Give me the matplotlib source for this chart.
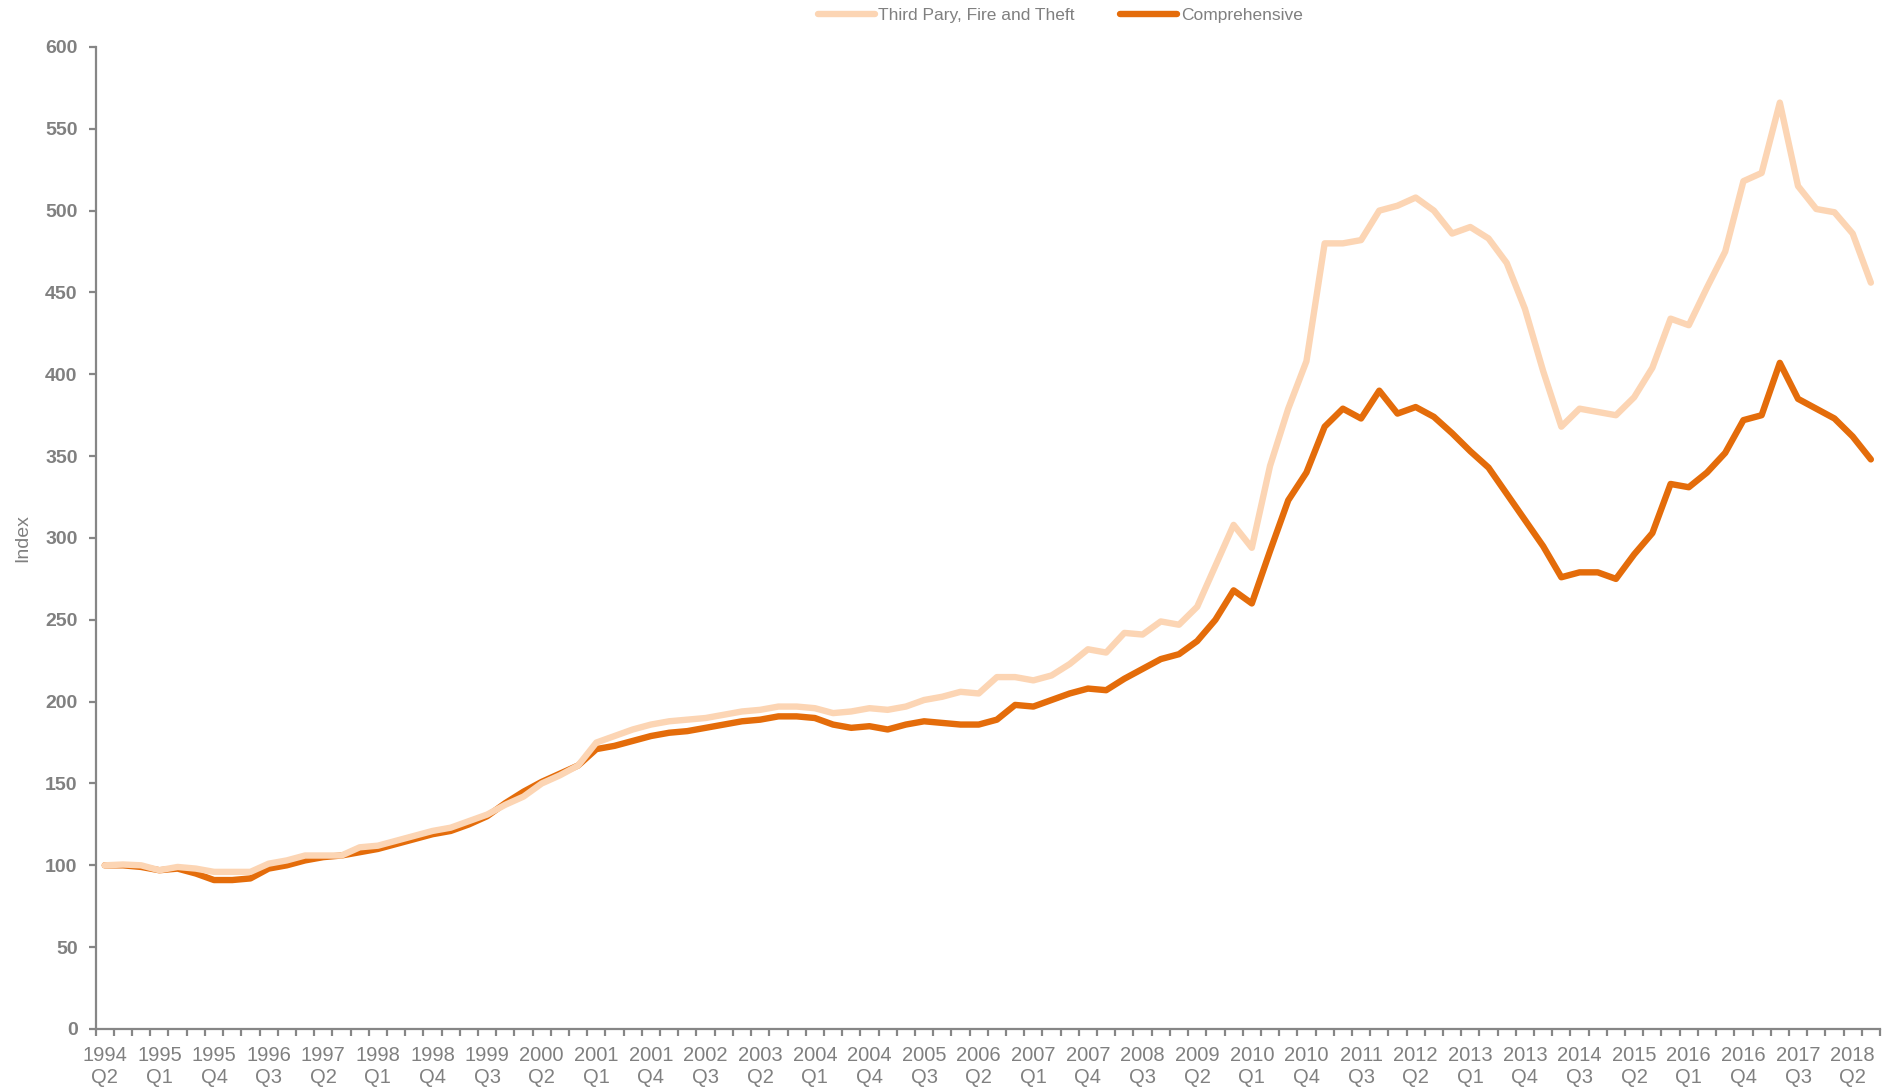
import matplotlib.pyplot as plt

plt.rcParams["font.family"] = ["Liberation Sans", "DejaVu Sans"]

# quarterly index, 1994 Q2 = 100
third_party = [
    100, 100.5, 100, 97, 99, 98, 96, 96, 96, 101,
    103, 106, 106, 106, 111, 112, 115, 118, 121, 123,
    127, 131, 137, 142, 150, 155, 161, 175, 179, 183,
    186, 188, 189, 190, 192, 194, 195, 197, 197, 196,
    193, 194, 196, 195, 197, 201, 203, 206, 205, 215,
    215, 213, 216, 223, 232, 230, 242, 241, 249, 247,
    258, 283, 308, 294, 344, 379, 408, 480, 480, 482,
    500, 503, 508, 500, 486, 490, 483, 468, 440, 402,
    368, 379, 377, 375, 386, 404, 434, 430, 453, 475,
    518, 523, 566, 515, 501, 499, 486, 456,
]
comprehensive = [
    100, 100, 99, 97, 98, 95, 91, 91, 92, 98,
    100, 103, 105, 106, 108, 110, 113, 116, 119, 121,
    125, 130, 138, 145, 151, 156, 161, 171, 173, 176,
    179, 181, 182, 184, 186, 188, 189, 191, 191, 190,
    186, 184, 185, 183, 186, 188, 187, 186, 186, 189,
    198, 197, 201, 205, 208, 207, 214, 220, 226, 229,
    237, 250, 268, 260, 292, 323, 340, 368, 379, 373,
    390, 376, 380, 374, 364, 353, 343, 327, 311, 295,
    276, 279, 279, 275, 290, 303, 333, 331, 340, 352,
    372, 375, 407, 385, 379, 373, 362, 348,
]
series_names = ["Third Pary, Fire and Theft", "Comprehensive"]
start_year, start_quarter = 1994, 2
label_every = 3

quarters = []
for k in range(len(third_party)):
    q = start_quarter - 1 + k
    quarters.append(f"{start_year + q // 4}\nQ{q % 4 + 1}")

grey = "#808080"
axis_grey = "#868686"
light = "#FCD5B4"
dark = "#E46C0A"

fig = plt.figure(figsize=(18.98, 10.92), dpi=100)
ax = fig.add_axes([0.0504, 0.0577, 0.9401, 0.8993])

x = list(range(len(third_party)))
l1, = ax.plot(x, third_party, color=light, lw=4.6, zorder=3,
              solid_capstyle="round", solid_joinstyle="round", label=series_names[0])
l2, = ax.plot(x, comprehensive, color=dark, lw=4.6, zorder=2,
              solid_capstyle="round", solid_joinstyle="round", label=series_names[1])

ax.set_xlim(-0.5, len(x) - 0.5)
ax.set_ylim(0, 600)
ax.set_yticks(range(0, 601, 50))
ax.set_xticks(x[::label_every])
ax.set_xticklabels(quarters[::label_every], linespacing=1.25)
ax.set_xticks([i - 0.5 for i in range(len(x) + 1)], minor=True)

for side in ["top", "right"]:
    ax.spines[side].set_visible(False)
for side in ["left", "bottom"]:
    ax.spines[side].set_color(axis_grey)
    ax.spines[side].set_linewidth(1.6)

ax.tick_params(axis="y", colors=axis_grey, length=5, width=1.6, labelsize=14,
               labelcolor=grey, pad=8)
for t in ax.get_yticklabels():
    t.set_fontweight("bold")
ax.tick_params(axis="x", which="major", length=0, labelsize=14.5, labelcolor=grey, pad=12)
ax.tick_params(axis="x", which="minor", length=5, width=1.6, colors=axis_grey)

ax.set_ylabel("Index", color=grey, fontsize=14, labelpad=10)

fig.legend(handles=[l1, l2], loc="center", bbox_to_anchor=(0.5586, 0.986), ncol=2,
           frameon=False, fontsize=12.5, labelcolor=grey, handlelength=3.3,
           handletextpad=0.2, columnspacing=2.6)

fig.savefig("out.png", dpi=100)
